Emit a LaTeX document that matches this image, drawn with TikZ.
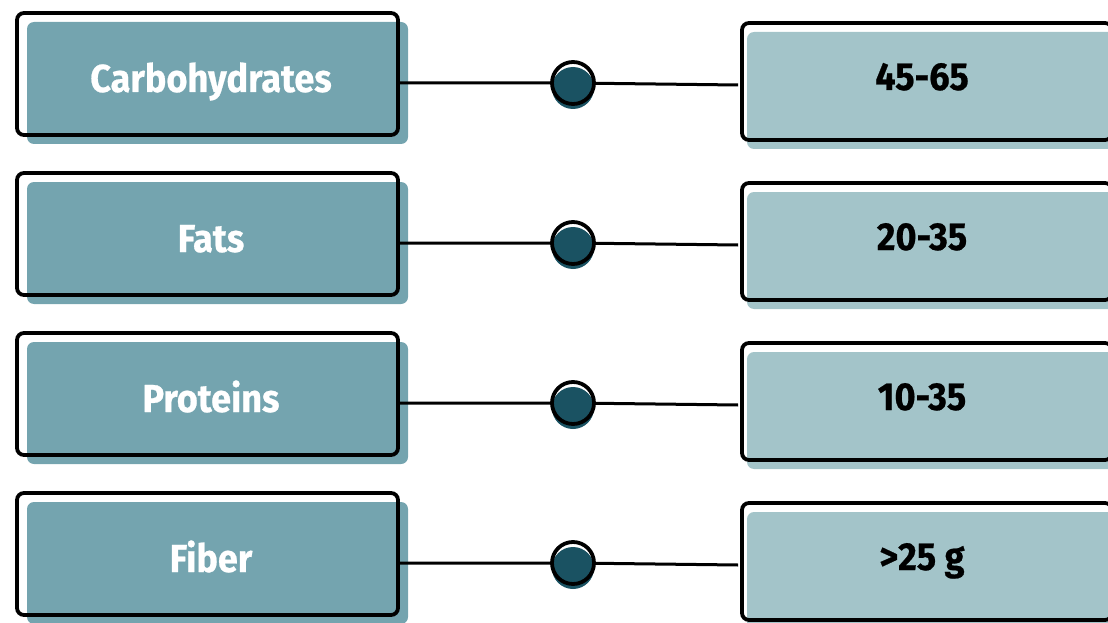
\documentclass[tikz,border=0pt]{standalone}
\usepackage{fontspec}
\newfontfamily\lblfont{Fira Sans}[FakeStretch=0.925, FakeBold=0.6]
\usetikzlibrary{calc}
\definecolor{leftfill}{HTML}{74A4AF}
\definecolor{rightfill}{HTML}{A3C4C9}
\definecolor{dotfill}{HTML}{1A5262}
\tikzset{
  lbox/.style={draw=black, line width=3.8pt, rounded corners=7pt,
    minimum width=381pt, minimum height=122pt, inner sep=0pt,
    preaction={draw=none, fill=leftfill, transform canvas={shift={(10pt,-9pt)}}}},
  rbox/.style={draw=black, line width=3.8pt, rounded corners=7pt,
    minimum width=370pt, minimum height=117pt, inner sep=0pt,
    preaction={draw=none, fill=rightfill, transform canvas={shift={(5pt,-9pt)}}}},
  dot/.style={circle, draw=black, line width=3.8pt, minimum size=42pt, inner sep=0pt,
    preaction={fill=white},
    preaction={draw=none, fill=dotfill, transform canvas={shift={(0pt,-5pt)}}}},
  link/.style={draw=black, line width=3pt},
  ltext/.style={anchor=base, text=white, inner sep=0pt,
    font=\lblfont\bfseries\fontsize{39}{39}\selectfont},
  rtext/.style={anchor=base, text=black, inner sep=0pt,
    font=\lblfont\bfseries\fontsize{39}{39}\selectfont},
}
\begin{document}
\begin{tikzpicture}[x=1pt, y=-1pt]
  \useasboundingbox (0,0) rectangle (1108,623);
  \clip (0,0) rectangle (1108,623);
  \foreach \name/\val [count=\i] in {Carbohydrates/45-65, Fats/20-35, Proteins/10-35, Fiber/>25 g} {
    \pgfmathsetmacro{\o}{160*(\i-1)}
    % connector with its dot
    \coordinate (d\i) at (573, 83+\o);
    \node[lbox] (c\i) at (207.5, 74+\o) {};
    \node[rbox] (r\i) at (927, 81.5+\o) {};
    \draw[link] (d\i -| c\i.east) -- (d\i) -- ($(d\i -| r\i.west)+(-2,2)$);
    \node[dot] (p\i) at (d\i) {};
    % labels
    \node[ltext] (t\i) at (211, 92+\o) {\name};
    \node[rtext] (v\i) at (922, 90+\o) {\val};
  }
\end{tikzpicture}
\end{document}
